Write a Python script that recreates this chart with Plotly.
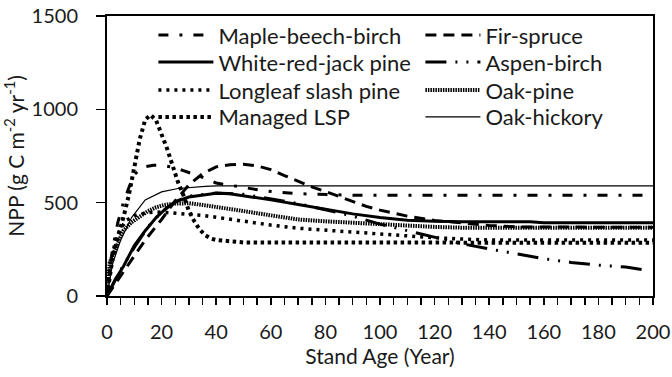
import plotly.graph_objects as go

# ---- data ----
maple_age = [0, 2, 4, 6, 8, 10, 13, 17, 20, 24, 28, 32, 36, 40, 45, 50, 56, 62, 70, 80, 90, 200]
maple_npp = [0, 250, 396, 500, 580, 650, 690, 700, 700, 690, 672, 652, 630, 605, 595, 582, 567, 557, 548, 542, 540, 540]

fir_age = [0, 5, 10, 14, 20, 25, 30, 35, 40, 45, 50, 55, 60, 65, 70, 75, 80, 85, 90, 95, 100, 110, 120, 130, 140, 150, 200]
fir_npp = [0, 110, 215, 300, 410, 510, 595, 655, 692, 703, 706, 697, 677, 645, 615, 585, 560, 533, 505, 480, 460, 428, 405, 390, 378, 370, 368]

wrj_age = [0, 3, 6, 10, 14, 18, 22, 26, 30, 35, 40, 45, 50, 60, 70, 80, 90, 100, 110, 120, 130, 155, 160, 200]
wrj_npp = [0, 88, 158, 270, 350, 420, 475, 510, 530, 542, 550, 548, 538, 515, 490, 463, 440, 420, 406, 400, 398, 398, 392, 392]

aspen_age = [0, 5, 10, 15, 20, 25, 30, 40, 50, 60, 70, 80, 90, 100, 110, 120, 130, 140, 150, 160, 170, 180, 190, 197]
aspen_npp = [0, 140, 260, 370, 450, 505, 535, 552, 545, 520, 495, 462, 428, 385, 350, 315, 280, 252, 225, 200, 180, 165, 155, 140]

ll_age = [0, 1, 3, 5, 7, 10, 14, 18, 22, 26, 30, 35, 40, 50, 60, 70, 80, 90, 100, 110, 120, 130, 140, 200]
ll_npp = [0, 150, 290, 360, 405, 430, 445, 450, 447, 443, 440, 432, 422, 400, 380, 363, 352, 343, 333, 322, 312, 305, 300, 300]

op_age = [0, 1, 3, 6, 9, 12, 15, 18, 21, 25, 30, 35, 40, 50, 60, 70, 80, 90, 100, 110, 120, 130, 140, 200]
op_npp = [0, 180, 250, 350, 395, 425, 455, 475, 488, 495, 497, 488, 478, 455, 432, 410, 400, 392, 385, 378, 370, 366, 365, 365]

mlsp_age = [0, 2, 4, 6, 8, 10, 12, 14, 16, 18, 20, 22, 24, 26, 28, 30, 32, 34, 36, 38, 40, 45, 50, 200]
mlsp_npp = [0, 200, 320, 420, 540, 680, 840, 945, 970, 940, 870, 790, 700, 610, 540, 455, 400, 355, 325, 308, 300, 292, 287, 285]

oh_age = [0, 2, 5, 9, 14, 20, 26, 30, 36, 40, 200]
oh_npp = [0, 170, 300, 420, 515, 558, 576, 582, 587, 590, 590]

x_ticks = [0, 20, 40, 60, 80, 100, 120, 140, 160, 180, 200]
y_ticks = [0, 500, 1000, 1500]

FONT = "Lato"
INK = "#1a1a1a"

# legend grid: two columns, four rows (paper coordinates)
COL_X = [0.085, 0.574]
ROW_Y = [0.931, 0.835, 0.735, 0.639]

# (name, x, y, line style, column, row)
series = [
    ("Maple-beech-birch", maple_age, maple_npp, dict(width=3, dash="10px,11px,3px,11px"), 0, 0),
    ("Fir-spruce", fir_age, fir_npp, dict(width=3, dash="11px,7px"), 1, 0),
    ("White-red-jack pine", wrj_age, wrj_npp, dict(width=3, dash="solid"), 0, 1),
    ("Aspen-birch", aspen_age, aspen_npp, dict(width=3, dash="21px,9px,2px,9px,2px,9px"), 1, 1),
    ("Longleaf slash pine", ll_age, ll_npp, dict(width=3.5, dash="3px,5px"), 0, 2),
    ("Oak-pine", op_age, op_npp, dict(width=4, dash="1.5px,1px"), 1, 2),
    ("Managed LSP", mlsp_age, mlsp_npp, dict(width=4, dash="3.5px,3.5px"), 0, 3),
    ("Oak-hickory", oh_age, oh_npp, dict(width=1.2, dash="solid"), 1, 3),
]

fig = go.Figure()
legends = {}
for i, (name, xs, ys, ln, col, row) in enumerate(series):
    key = "legend" if i == 0 else f"legend{i + 1}"
    fig.add_trace(go.Scatter(x=xs, y=ys, mode="lines", name=name, legend=key,
                             line=dict(color="black", **ln)))
    legends[key] = dict(
        x=COL_X[col], y=ROW_Y[row], xanchor="left", yanchor="middle",
        orientation="v", bgcolor="rgba(0,0,0,0)", borderwidth=0, itemwidth=55,
        font=dict(family=FONT, size=22, color=INK),
    )

fig.update_layout(
    width=672, height=377,
    margin=dict(l=107, r=19, t=16, b=81, autoexpand=False),
    paper_bgcolor="white", plot_bgcolor="white",
    font=dict(family=FONT, size=20, color=INK),
    showlegend=True,
    **legends,
)

fig.update_xaxes(
    range=[0, 200], tickvals=x_ticks, ticktext=[str(v) for v in x_ticks],
    ticks="outside", ticklen=7, tickwidth=1.5, tickcolor="black",
    minor=dict(dtick=5, ticks="outside", ticklen=7, tickwidth=1.5, tickcolor="black"),
    showline=True, linecolor="black", linewidth=2, mirror=True,
    showgrid=False, zeroline=False, ticklabelstandoff=10, automargin=False,
    ticklabeloverflow="allow",
    tickfont=dict(family=FONT, size=20, color=INK),
    title=dict(text="Stand Age (Year)", font=dict(family=FONT, size=21, color=INK), standoff=0),
)
fig.update_yaxes(
    range=[0, 1500], tickvals=y_ticks, ticktext=[str(v) for v in y_ticks],
    ticks="outside", ticklen=9, tickwidth=1.5, tickcolor="black",
    showline=True, linecolor="black", linewidth=2, mirror=True,
    showgrid=False, zeroline=False, ticklabelstandoff=14, automargin=False,
    ticklabeloverflow="allow",
    tickfont=dict(family=FONT, size=20, color=INK),
    title=dict(text="NPP (g C m<sup>-2</sup> yr<sup>-1</sup>)", font=dict(family=FONT, size=21, color=INK), standoff=2),
)

# remove the browser's default 8px page margin so the figure fills the window exactly
fig.write_html("out.html",
               config={"displayModeBar": False, "staticPlot": True},
               post_script="document.body.style.margin='0';document.body.style.overflow='hidden';")
